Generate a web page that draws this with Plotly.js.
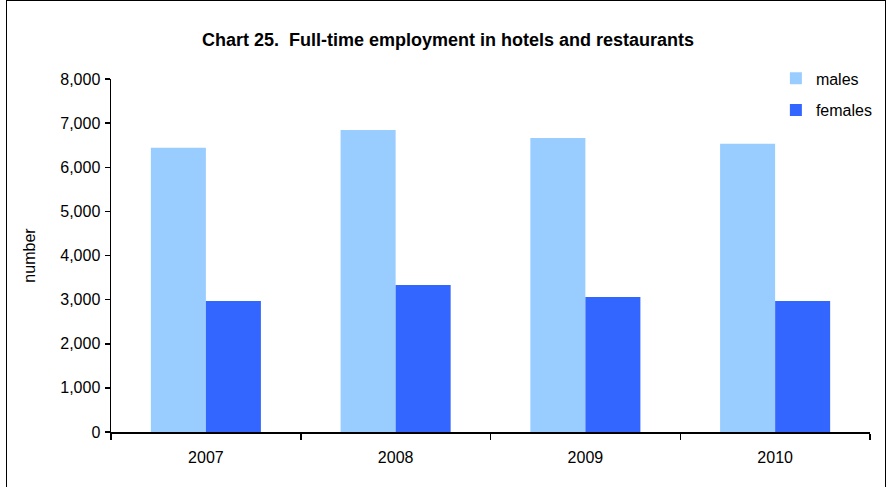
<!DOCTYPE html>
<html>
<head>
<meta charset="utf-8">
<script src="https://cdn.plot.ly/plotly-3.0.1.min.js"></script>
<style>
  html, body { margin: 0; padding: 0; background: #fff; }
  #chart { width: 891px; height: 487px; }
  #frame { position: absolute; left: 6px; top: 0px; width: 880px; height: 500px;
           border: 1.5px solid #000; pointer-events: none; box-sizing: border-box; }
</style>
</head>
<body>
<div id="chart"></div>
<div id="frame"></div>
<script>
const years = ['2007', '2008', '2009', '2010'];
const males = [6440, 6845, 6665, 6530];
const females = [2970, 3330, 3060, 2970];
const yTicks = [0, 1000, 2000, 3000, 4000, 5000, 6000, 7000, 8000];
const yTickText = ['0', '1,000', '2,000', '3,000', '4,000', '5,000', '6,000', '7,000', '8,000'];

const font = { family: 'Liberation Sans, Arial, sans-serif', size: 16, color: '#000' };

const traces = [
  { type: 'bar', name: 'males', x: years, y: males, marker: { color: '#99CCFF' }, legendgroup: 'a' },
  { type: 'bar', name: 'females', x: years, y: females, marker: { color: '#3366FF' }, legendgroup: 'b' }
];

const layout = {
  width: 891, height: 487,
  margin: { l: 111, r: 21, t: 79, b: 55, autoexpand: false },
  paper_bgcolor: '#fff', plot_bgcolor: '#fff',
  font: font,
  title: { text: '<b>Chart 25.  Full-time employment in hotels and restaurants</b>',
           x: 448 / 891, xref: 'container', xanchor: 'center', y: 1 - 40 / 487, yanchor: 'middle',
           font: { family: 'Liberation Sans, Arial, sans-serif', size: 18, color: '#000' } },
  barmode: 'group', bargap: 0.42, bargroupgap: 0,
  showlegend: true,
  legend: { x: 0.876, xanchor: 'left', y: 1.05, yanchor: 'top', bgcolor: 'rgba(0,0,0,0)',
            tracegroupgap: 8, traceorder: 'grouped', itemwidth: 30, font: font },
  xaxis: { type: 'category', showline: true, linecolor: '#000', linewidth: 1.5,
           ticks: 'outside', tickson: 'boundaries', ticklen: 6, tickwidth: 1.5, tickcolor: '#000',
           showgrid: false, zeroline: false, fixedrange: true, ticklabelstandoff: 10 },
  yaxis: { range: [0, 8000], tickvals: yTicks, ticktext: yTickText,
           showline: true, linecolor: '#000', linewidth: 1.5,
           ticks: 'outside', ticklen: 5, tickwidth: 1.5, tickcolor: '#000',
           showgrid: false, zeroline: false, ticklabelstandoff: 1,
           title: { text: 'number', standoff: 20, font: font } }
};

Plotly.newPlot('chart', traces, layout, { displayModeBar: false, staticPlot: true });
</script>
</body>
</html>
